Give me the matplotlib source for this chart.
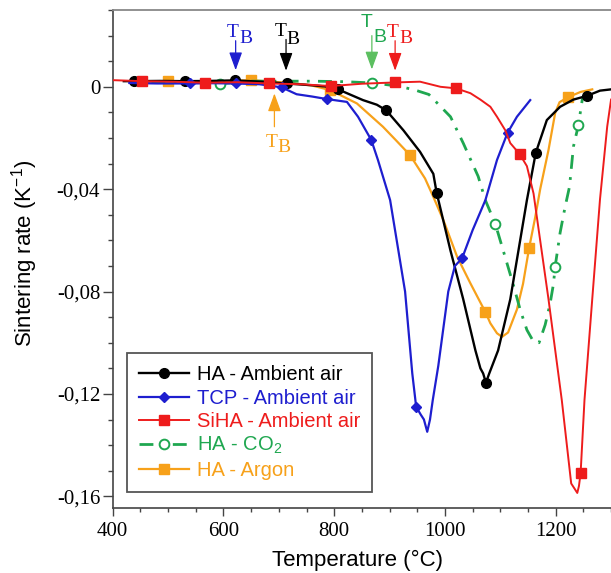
import matplotlib
matplotlib.use("Agg")
import matplotlib.pyplot as plt
from matplotlib.ticker import MultipleLocator, FuncFormatter

# ---------------- data ----------------
black_T = [420, 439, 485, 531, 575, 621, 668, 714, 760, 790, 807, 852, 877, 894, 925, 955, 979, 985, 1010, 1033,
           1055, 1064, 1069, 1074, 1080, 1096, 1118, 1148, 1164, 1184, 1208, 1232, 1257, 1280, 1300]
black_r = [0.0022, 0.0022, 0.0023, 0.0022, 0.0023, 0.0025, 0.002, 0.0013, 0.0006, 0.0,
           -0.001, -0.0052, -0.007, -0.0092, -0.017, -0.0254, -0.034, -0.0414, -0.064, -0.083,
           -0.103, -0.110, -0.112, -0.1156, -0.112, -0.103, -0.083, -0.0443, -0.0258, -0.013,
           -0.0078, -0.005, -0.0035, -0.0015, -0.001]
black_mk = [439, 531, 621, 714, 807, 894, 985, 1074, 1164, 1257]

blue_T = [430, 480, 540, 580, 622, 665, 705, 732, 760, 787, 823, 843, 867, 879, 901, 928, 941, 948, 956, 962,
          968, 973, 978, 988, 1006, 1018, 1031, 1050, 1073, 1094, 1113, 1130, 1154]
blue_r = [0.0015, 0.0013, 0.0013, 0.0014, 0.0013, 0.001, -0.0002, -0.0029, -0.0038, -0.0048,
          -0.0059, -0.0117, -0.0208, -0.0286, -0.0443, -0.080, -0.112, -0.125, -0.128, -0.130,
          -0.1348, -0.130, -0.1224, -0.109, -0.080, -0.070, -0.067, -0.056, -0.0443, -0.0286,
          -0.018, -0.0117, -0.0052]
blue_mk = [540, 622, 705, 787, 867, 948, 1031, 1113]

red_T = [400, 453, 510, 567, 625, 682, 740, 794, 850, 909, 955, 992, 1020, 1046, 1064, 1082, 1094, 1109, 1118, 1135,
         1148, 1160, 1187, 1211, 1228, 1234, 1239, 1242, 1245, 1252, 1266, 1280, 1293, 1300]
red_r = [0.0026, 0.0022, 0.002, 0.0016, 0.0018, 0.0013, 0.001, 0.0003, 0.0012, 0.0017,
         0.002, 0.0, -0.0006, -0.0025, -0.005, -0.0078, -0.0117, -0.017, -0.022, -0.0263,
         -0.031, -0.0417, -0.083, -0.1224, -0.155, -0.157, -0.1587, -0.156, -0.151, -0.1224,
         -0.083, -0.044, -0.0156, -0.005]
red_mk = [453, 567, 682, 794, 909, 1020, 1135, 1245]

green_T = [470, 520, 594, 650, 700, 760, 820, 869, 915, 945, 971, 1010, 1033, 1060, 1073, 1091, 1105, 1123, 1136, 1148,
           1160, 1170, 1181, 1190, 1196, 1199, 1208, 1217, 1225, 1232, 1241, 1248, 1256]
green_r = [0.002, 0.002, 0.0012, 0.0022, 0.0022, 0.0022, 0.002, 0.0015, 0.0003, -0.0012,
           -0.003, -0.0117, -0.022, -0.035, -0.0443, -0.0536, -0.0638, -0.077, -0.0872, -0.095,
           -0.0996, -0.100, -0.093, -0.0846, -0.077, -0.0703, -0.057, -0.0469, -0.039, -0.0234,
           -0.015, -0.005, -0.002]
green_mk = [594, 869, 1091, 1199, 1241]

orange_T = [460, 499, 550, 600, 650, 700, 714, 760, 793, 841, 888, 912, 937, 964, 979, 997, 1022, 1046, 1073, 1082,
            1094, 1103, 1114, 1130, 1141, 1152, 1163, 1172, 1187, 1199, 1207, 1223, 1245, 1266]
orange_r = [0.002, 0.0022, 0.0022, 0.0022, 0.0026, 0.0018, 0.0017, 0.0005, -0.0013, -0.0065,
            -0.0156, -0.021, -0.0267, -0.0358, -0.043, -0.052, -0.0664, -0.0768, -0.088, -0.0924,
            -0.0963, -0.0977, -0.096, -0.087, -0.077, -0.063, -0.051, -0.040, -0.0247, -0.0103,
            -0.006, -0.004, -0.002, -0.001]
orange_mk = [499, 650, 793, 937, 1073, 1152, 1223]

labels = ["HA - Ambient air", "TCP - Ambient air", "SiHA - Ambient air",
          "HA - CO$_\\mathregular{2}$", "HA - Argon"]

# onset temperatures T_B (arrows)
tb_blue, tb_black, tb_green, tb_red, tb_orange = 622, 713, 868, 910, 692

C_BLACK = "#000000"
C_BLUE = "#1e1ecf"
C_RED = "#ee1c1c"
C_GREEN = "#1fa750"
C_ORANGE = "#f7a11a"

SERIF = "Liberation Serif"
SANS = "Liberation Sans"

fig = plt.figure(figsize=(6.11, 5.73), dpi=100)
ax = fig.add_axes([0.1845, 0.1129, 0.8156, 0.8696])


def idx(T, mk):
    return [T.index(t) for t in mk]


ax.plot(orange_T, orange_r, color=C_ORANGE, lw=1.6, marker="s", ms=7.5,
        markevery=idx(orange_T, orange_mk), zorder=2, label=labels[4])
ax.plot(green_T, green_r, color=C_GREEN, lw=2.0, ls=(0, (5, 3, 1, 3)), marker="o", ms=7,
        mfc="white", mec=C_GREEN, mew=1.4, markevery=idx(green_T, green_mk), zorder=3, label=labels[3])
ax.plot(black_T, black_r, color=C_BLACK, lw=1.7, marker="o", ms=7,
        markevery=idx(black_T, black_mk), zorder=4, label=labels[0])
ax.plot(blue_T, blue_r, color=C_BLUE, lw=1.6, marker="D", ms=5.5,
        markevery=idx(blue_T, blue_mk), zorder=5, label=labels[1])
ax.plot(red_T, red_r, color=C_RED, lw=1.4, marker="s", ms=7.5,
        markevery=idx(red_T, red_mk), zorder=6, label=labels[2])

ax.set_xlim(400, 1300)
ax.set_ylim(-0.1647, 0.03)

ax.xaxis.set_major_locator(MultipleLocator(200))
ax.xaxis.set_minor_locator(MultipleLocator(50))
ax.yaxis.set_major_locator(MultipleLocator(0.04))
ax.yaxis.set_minor_locator(MultipleLocator(0.01))


def yfmt(v, pos):
    if abs(v) < 1e-9:
        return "0"
    return ("%.2f" % v).replace(".", ",")


ax.yaxis.set_major_formatter(FuncFormatter(yfmt))
ax.xaxis.set_major_formatter(FuncFormatter(lambda v, p: "%d" % round(v)))

ax.tick_params(axis="both", which="major", direction="out", length=7, width=1.0,
               color="#444444", labelsize=15, pad=2)
ax.tick_params(axis="both", which="minor", direction="out", length=3.5, width=1.0, color="#444444")
ax.tick_params(axis="x", which="major", length=6, pad=4)
ax.tick_params(axis="x", which="minor", length=3)
for lab in ax.get_xticklabels() + ax.get_yticklabels():
    lab.set_fontfamily(SERIF)

ax.spines["right"].set_visible(False)
ax.spines["top"].set_color("#888888")
ax.spines["top"].set_linewidth(1.3)
ax.spines["left"].set_color("#444444")
ax.spines["left"].set_linewidth(1.2)
ax.spines["bottom"].set_color("#444444")
ax.spines["bottom"].set_linewidth(1.2)

ax.set_xlabel("Temperature (°C)", fontfamily=SANS, fontsize=16)
ax.xaxis.set_label_coords(0.4915, -0.0833)
ax.xaxis.label.set_va("top")
ax.set_ylabel("Sintering rate (K$^\\mathregular{-1}$)", fontfamily=SANS, fontsize=16)
ax.yaxis.set_label_coords(-0.145, 0.511)

# arrows for T_B
arrow_style = "-|>,head_length=1.1,head_width=0.4"


def tb_arrow(T, y0, y1, color):
    ax.annotate("", xy=(T, y1), xytext=(T, y0),
                arrowprops=dict(arrowstyle=arrow_style, color=color, lw=0.9,
                                shrinkA=0, shrinkB=0, mutation_scale=10),
                zorder=8)


tb_arrow(tb_blue, 0.0180, 0.0065, C_BLUE)
tb_arrow(tb_black, 0.0185, 0.0063, C_BLACK)
tb_arrow(tb_green, 0.0200, 0.0068, "#5cbf60")
tb_arrow(tb_red, 0.0180, 0.0063, C_RED)
tb_arrow(tb_orange, -0.0156, -0.0026, C_ORANGE)


def tb_label(xt, yt, xb, yb, color, family, size):
    ax.text(xt, yt, "T", color=color, fontfamily=family, fontsize=size, ha="center", va="baseline")
    ax.text(xb, yb, "B", color=color, fontfamily=family, fontsize=size, ha="center", va="baseline")


tb_label(617, 0.0195, 640, 0.0172, C_BLUE, SERIF, 14)
tb_label(703, 0.0198, 726, 0.0167, C_BLACK, SERIF, 14)
tb_label(859, 0.0234, 883, 0.0176, C_GREEN, SANS, 14)
tb_label(906, 0.0195, 929, 0.0170, C_RED, SERIF, 14)
tb_label(687, -0.0234, 710, -0.0254, C_ORANGE, SERIF, 14)

# legend in the original order
handles, labs = ax.get_legend_handles_labels()
order = [labels.index(l) for l in labs]
hl = sorted(zip(order, handles, labs))
leg = ax.legend([h for _, h, _ in hl], [l for _, _, l in hl],
                loc="lower left", bbox_to_anchor=(0.0287, 0.0333), borderaxespad=0,
                prop={"family": SANS, "size": 14.5}, labelcolor="linecolor",
                handlelength=2.5, handletextpad=0.35, labelspacing=0.21, borderpad=0.6,
                fancybox=False, framealpha=1, edgecolor="#555555")
leg.get_frame().set_linewidth(1.3)
leg.set_zorder(10)

fig.savefig("out.png", dpi=100)
